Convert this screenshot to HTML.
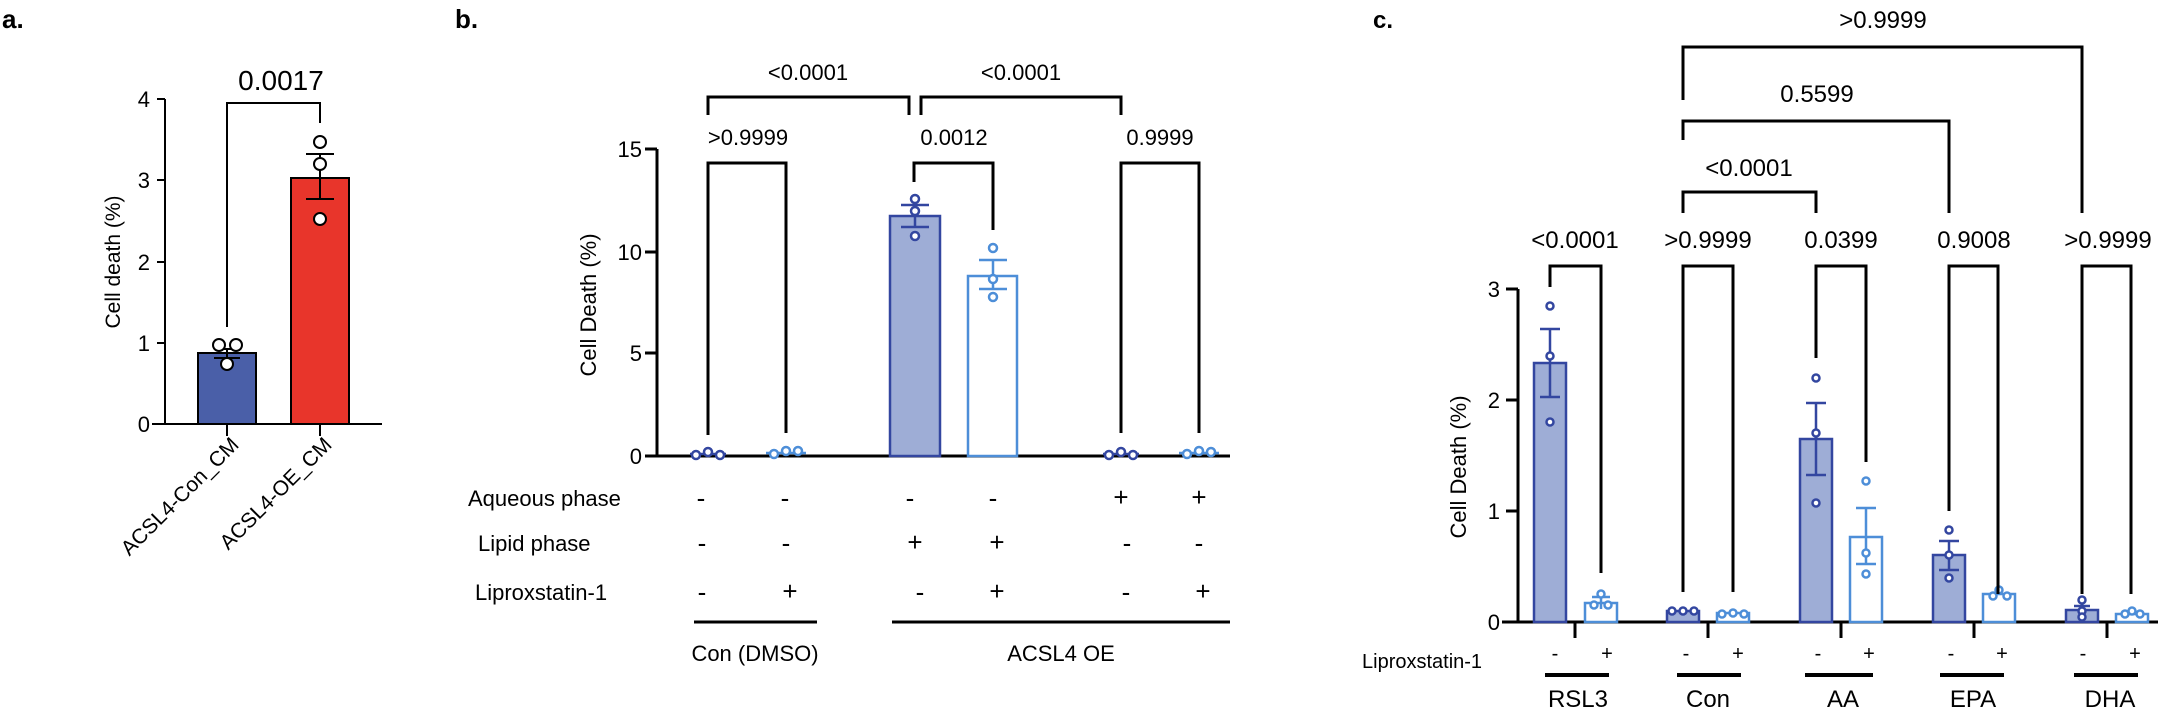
<!DOCTYPE html>
<html><head><meta charset="utf-8">
<style>
html,body{margin:0;padding:0;background:#fff;}
svg{display:block;}
text{font-family:"Liberation Sans",Arial,sans-serif;fill:#000;}
</style></head>
<body>
<svg width="2168" height="715" viewBox="0 0 2168 715" xmlns="http://www.w3.org/2000/svg">
<!-- ============ PANEL A ============ -->
<text x="2" y="28" font-size="26" font-weight="bold">a.</text>
<g stroke="#000" stroke-width="2" fill="none">
  <line x1="165" y1="99" x2="165" y2="424"/>
  <line x1="152" y1="424" x2="382" y2="424"/>
  <line x1="157" y1="99" x2="165" y2="99"/>
  <line x1="157" y1="180" x2="165" y2="180"/>
  <line x1="157" y1="262" x2="165" y2="262"/>
  <line x1="157" y1="343" x2="165" y2="343"/>
  <line x1="227" y1="424" x2="227" y2="436"/>
  <line x1="320" y1="424" x2="320" y2="436"/>
</g>
<g font-size="22" text-anchor="end">
  <text x="150" y="107">4</text><text x="150" y="188">3</text>
  <text x="150" y="270">2</text><text x="150" y="351">1</text><text x="150" y="432">0</text>
</g>
<text transform="translate(120,262) rotate(-90)" font-size="21" text-anchor="middle">Cell death (%)</text>
<rect x="198" y="353" width="58" height="71" fill="#4a5fa8" stroke="#000" stroke-width="2"/>
<rect x="291" y="178" width="58" height="246" fill="#e8352b" stroke="#000" stroke-width="2"/>
<g stroke="#000" stroke-width="2" fill="none">
  <line x1="227" y1="349" x2="227" y2="358"/><line x1="214" y1="358" x2="240" y2="358"/><line x1="214" y1="349" x2="240" y2="349"/>
  <line x1="320" y1="154" x2="320" y2="199"/><line x1="306" y1="154" x2="334" y2="154"/><line x1="306" y1="199" x2="334" y2="199"/>
  <polyline points="227,327 227,103 320,103 320,123"/>
</g>
<g stroke="#000" stroke-width="2" fill="#fff">
  <circle cx="219" cy="345" r="6"/><circle cx="236" cy="345" r="6"/><circle cx="227" cy="364" r="6"/>
  <circle cx="320" cy="142" r="6"/><circle cx="320" cy="164" r="6"/><circle cx="320" cy="219" r="6"/>
</g>
<text x="281" y="90" font-size="28" text-anchor="middle">0.0017</text>
<text transform="translate(240,446) rotate(-45)" font-size="21" text-anchor="end">ACSL4-Con_CM</text>
<text transform="translate(333,446) rotate(-45)" font-size="21" text-anchor="end">ACSL4-OE_CM</text>

<!-- ============ PANEL B ============ -->
<text x="455" y="28" font-size="26" font-weight="bold">b.</text>
<g stroke="#000" stroke-width="3" fill="none">
  <line x1="657" y1="149" x2="657" y2="456"/>
  <line x1="645" y1="456" x2="1230" y2="456"/>
  <line x1="645" y1="149" x2="657" y2="149"/>
  <line x1="645" y1="252" x2="657" y2="252"/>
  <line x1="645" y1="353" x2="657" y2="353"/>
</g>
<g font-size="22" text-anchor="end">
  <text x="642" y="157">15</text><text x="642" y="260">10</text><text x="642" y="361">5</text><text x="642" y="464">0</text>
</g>
<text transform="translate(596,305) rotate(-90)" font-size="22" text-anchor="middle">Cell Death (%)</text>
<!-- bars -->
<rect x="890" y="216" width="50" height="240" fill="#9eadd6" stroke="#3346a0" stroke-width="2.5"/>
<rect x="968" y="276" width="49" height="180" fill="#fff" stroke="#4d8ed8" stroke-width="2.5"/>
<g stroke="#3346a0" stroke-width="2.5" fill="none">
  <line x1="915" y1="205" x2="915" y2="227"/><line x1="901" y1="205" x2="929" y2="205"/><line x1="901" y1="227" x2="929" y2="227"/>
  <line x1="690" y1="454" x2="726" y2="454"/><line x1="1103" y1="454" x2="1139" y2="454"/>
</g>
<g stroke="#4d8ed8" stroke-width="2.5" fill="none">
  <line x1="993" y1="260" x2="993" y2="289"/><line x1="979" y1="260" x2="1007" y2="260"/><line x1="979" y1="289" x2="1007" y2="289"/>
  <line x1="766" y1="453" x2="806" y2="453"/><line x1="1179" y1="453" x2="1219" y2="453"/>
</g>
<g stroke="#3346a0" stroke-width="2.5" fill="#fff">
  <circle cx="915" cy="199" r="4"/><circle cx="915" cy="211" r="4"/><circle cx="915" cy="236" r="4"/>
  <circle cx="696" cy="455" r="4"/><circle cx="708" cy="452" r="4"/><circle cx="720" cy="455" r="4"/>
  <circle cx="1109" cy="455" r="4"/><circle cx="1121" cy="452" r="4"/><circle cx="1133" cy="455" r="4"/>
</g>
<g stroke="#4d8ed8" stroke-width="2.5" fill="#fff">
  <circle cx="993" cy="248" r="4"/><circle cx="993" cy="279" r="4"/><circle cx="993" cy="297" r="4"/>
  <circle cx="774" cy="454" r="4"/><circle cx="786" cy="451" r="4"/><circle cx="798" cy="451" r="4"/>
  <circle cx="1187" cy="454" r="4"/><circle cx="1199" cy="451" r="4"/><circle cx="1211" cy="452" r="4"/>
</g>
<!-- brackets b -->
<g stroke="#000" stroke-width="3" fill="none">
  <polyline points="708,435 708,163 786,163 786,433"/>
  <polyline points="914,182 914,163 993,163 993,230"/>
  <polyline points="1121,433 1121,163 1199,163 1199,433"/>
  <polyline points="708,115 708,97 909,97 909,115"/>
  <polyline points="921,115 921,97 1121,97 1121,115"/>
</g>
<g font-size="22" text-anchor="middle">
  <text x="748" y="145">&gt;0.9999</text>
  <text x="954" y="145">0.0012</text>
  <text x="1160" y="145">0.9999</text>
  <text x="808" y="80">&lt;0.0001</text>
  <text x="1021" y="80">&lt;0.0001</text>
</g>
<g font-size="22">
  <text x="468" y="506">Aqueous phase</text>
  <text x="478" y="551">Lipid phase</text>
  <text x="475" y="600">Liproxstatin-1</text>
</g>
<g font-size="26" text-anchor="middle">
  <text x="701" y="507">-</text><text x="785" y="507">-</text><text x="910" y="507">-</text><text x="993" y="507">-</text><text x="1121" y="506">+</text><text x="1199" y="506">+</text>
  <text x="702" y="552">-</text><text x="786" y="552">-</text><text x="915" y="551">+</text><text x="997" y="551">+</text><text x="1127" y="552">-</text><text x="1199" y="552">-</text>
  <text x="702" y="601">-</text><text x="790" y="600">+</text><text x="920" y="601">-</text><text x="997" y="600">+</text><text x="1126" y="601">-</text><text x="1203" y="600">+</text>
</g>
<g stroke="#000" stroke-width="3">
  <line x1="694" y1="622" x2="817" y2="622"/>
  <line x1="892" y1="622" x2="1230" y2="622"/>
</g>
<g font-size="22" text-anchor="middle">
  <text x="755" y="661">Con (DMSO)</text>
  <text x="1061" y="661">ACSL4 OE</text>
</g>

<!-- ============ PANEL C ============ -->
<text x="1373" y="28" font-size="24" font-weight="bold">c.</text>
<g stroke="#000" stroke-width="3" fill="none">
  <line x1="1518" y1="289" x2="1518" y2="622"/>
  <line x1="1502" y1="622" x2="2158" y2="622"/>
  <line x1="1506" y1="289" x2="1518" y2="289"/>
  <line x1="1506" y1="400" x2="1518" y2="400"/>
  <line x1="1506" y1="511" x2="1518" y2="511"/>
  <line x1="1575" y1="622" x2="1575" y2="638"/>
  <line x1="1708" y1="622" x2="1708" y2="638"/>
  <line x1="1841" y1="622" x2="1841" y2="638"/>
  <line x1="1974" y1="622" x2="1974" y2="638"/>
  <line x1="2107" y1="622" x2="2107" y2="638"/>
</g>
<g font-size="22" text-anchor="end">
  <text x="1500" y="297">3</text><text x="1500" y="408">2</text><text x="1500" y="519">1</text><text x="1500" y="630">0</text>
</g>
<text transform="translate(1466,467) rotate(-90)" font-size="22" text-anchor="middle">Cell Death (%)</text>
<!-- filled bars -->
<g fill="#9eadd6" stroke="#3346a0" stroke-width="2.5">
  <rect x="1534" y="363" width="32" height="259"/>
  <rect x="1667" y="611" width="32" height="11"/>
  <rect x="1800" y="439" width="32" height="183"/>
  <rect x="1933" y="555" width="32" height="67"/>
  <rect x="2066" y="610" width="32" height="12"/>
</g>
<g fill="#fff" stroke="#4d8ed8" stroke-width="2.5">
  <rect x="1585" y="603" width="32" height="19"/>
  <rect x="1717" y="613" width="32" height="9"/>
  <rect x="1850" y="537" width="32" height="85"/>
  <rect x="1983" y="594" width="32" height="28"/>
  <rect x="2116" y="614" width="32" height="8"/>
</g>
<g stroke="#3346a0" stroke-width="2.5" fill="none">
  <line x1="1550" y1="329" x2="1550" y2="397"/><line x1="1540" y1="329" x2="1560" y2="329"/><line x1="1540" y1="397" x2="1560" y2="397"/>
  <line x1="1816" y1="403" x2="1816" y2="475"/><line x1="1806" y1="403" x2="1826" y2="403"/><line x1="1806" y1="475" x2="1826" y2="475"/>
  <line x1="1949" y1="541" x2="1949" y2="570"/><line x1="1939" y1="541" x2="1959" y2="541"/><line x1="1939" y1="570" x2="1959" y2="570"/>
  <line x1="2082" y1="600" x2="2082" y2="618"/><line x1="2074" y1="606" x2="2090" y2="606"/>
</g>
<g stroke="#4d8ed8" stroke-width="2.5" fill="none">
  <line x1="1601" y1="597" x2="1601" y2="609"/><line x1="1592" y1="597" x2="1610" y2="597"/>
  <line x1="1866" y1="508" x2="1866" y2="564"/><line x1="1856" y1="508" x2="1876" y2="508"/><line x1="1856" y1="564" x2="1876" y2="564"/>
</g>
<g stroke="#3346a0" stroke-width="2.5" fill="#fff">
  <circle cx="1550" cy="306" r="3.5"/><circle cx="1550" cy="356" r="3.5"/><circle cx="1550" cy="422" r="3.5"/>
  <circle cx="1672" cy="611" r="3.5"/><circle cx="1683" cy="611" r="3.5"/><circle cx="1694" cy="611" r="3.5"/>
  <circle cx="1816" cy="378" r="3.5"/><circle cx="1816" cy="433" r="3.5"/><circle cx="1816" cy="503" r="3.5"/>
  <circle cx="1949" cy="530" r="3.5"/><circle cx="1949" cy="555" r="3.5"/><circle cx="1949" cy="578" r="3.5"/>
  <circle cx="2082" cy="600" r="3.5"/><circle cx="2082" cy="611" r="3.5"/><circle cx="2082" cy="617" r="3.5"/>
</g>
<g stroke="#4d8ed8" stroke-width="2.5" fill="#fff">
  <circle cx="1601" cy="594" r="3.5"/><circle cx="1594" cy="605" r="3.5"/><circle cx="1608" cy="605" r="3.5"/>
  <circle cx="1722" cy="614" r="3.5"/><circle cx="1733" cy="613" r="3.5"/><circle cx="1744" cy="614" r="3.5"/>
  <circle cx="1866" cy="481" r="3.5"/><circle cx="1866" cy="553" r="3.5"/><circle cx="1866" cy="574" r="3.5"/>
  <circle cx="1993" cy="596" r="3.5"/><circle cx="1999" cy="590" r="3.5"/><circle cx="2007" cy="596" r="3.5"/>
  <circle cx="2125" cy="614" r="3.5"/><circle cx="2132" cy="611" r="3.5"/><circle cx="2140" cy="614" r="3.5"/>
</g>
<!-- brackets c -->
<g stroke="#000" stroke-width="3" fill="none">
  <polyline points="1550,287 1550,266 1601,266 1601,573"/>
  <polyline points="1683,592 1683,266 1733,266 1733,592"/>
  <polyline points="1816,358 1816,266 1866,266 1866,462"/>
  <polyline points="1949,511 1949,266 1998,266 1998,594"/>
  <polyline points="2082,594 2082,266 2131,266 2131,594"/>
  <polyline points="1683,213 1683,192 1816,192 1816,213"/>
  <polyline points="1683,140 1683,121 1949,121 1949,213"/>
  <polyline points="1683,100 1683,47 2082,47 2082,213"/>
</g>
<g font-size="24" text-anchor="middle">
  <text x="1575" y="248">&lt;0.0001</text>
  <text x="1708" y="248">&gt;0.9999</text>
  <text x="1841" y="248">0.0399</text>
  <text x="1974" y="248">0.9008</text>
  <text x="2108" y="248">&gt;0.9999</text>
  <text x="1749" y="176">&lt;0.0001</text>
  <text x="1817" y="102">0.5599</text>
  <text x="1883" y="28">&gt;0.9999</text>
</g>
<text x="1362" y="668" font-size="20">Liproxstatin-1</text>
<g font-size="20" text-anchor="middle">
  <text x="1555" y="660">-</text><text x="1607" y="660">+</text>
  <text x="1686" y="660">-</text><text x="1738" y="660">+</text>
  <text x="1818" y="660">-</text><text x="1869" y="660">+</text>
  <text x="1951" y="660">-</text><text x="2002" y="660">+</text>
  <text x="2083" y="660">-</text><text x="2135" y="660">+</text>
</g>
<g stroke="#000" stroke-width="4">
  <line x1="1545" y1="675" x2="1609" y2="675"/>
  <line x1="1677" y1="675" x2="1741" y2="675"/>
  <line x1="1805" y1="675" x2="1873" y2="675"/>
  <line x1="1940" y1="675" x2="2004" y2="675"/>
  <line x1="2074" y1="675" x2="2138" y2="675"/>
</g>
<g font-size="24" text-anchor="middle">
  <text x="1578" y="707">RSL3</text>
  <text x="1708" y="707">Con</text>
  <text x="1843" y="707">AA</text>
  <text x="1973" y="707">EPA</text>
  <text x="2110" y="707">DHA</text>
</g>
</svg>
</body></html>
